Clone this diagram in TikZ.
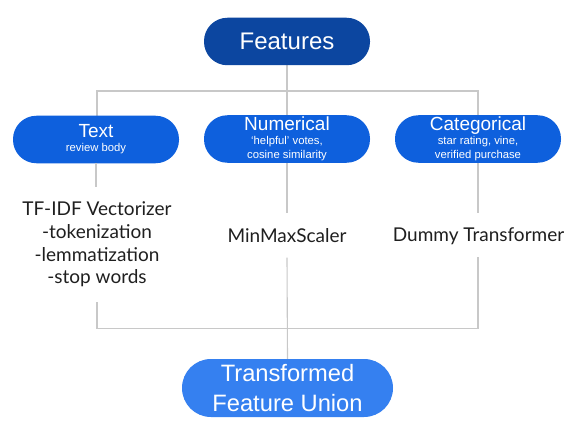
\documentclass[tikz,border=0pt]{standalone}
\usepackage{fontspec}
\newfontfamily\boxfont{Liberation Sans}
\newfontfamily\latofont{Lato}
\definecolor{darkblue}{HTML}{0C46A0}
\definecolor{midblue}{HTML}{0E60DD}
\definecolor{lightblue}{HTML}{3580F0}
\definecolor{linegray}{HTML}{C8C8C8}
\tikzset{
  pill/.style={rectangle, rounded corners=23.4pt, minimum width=166pt, minimum height=47.5pt,
    inner sep=0pt, text=white, align=center, font=\boxfont},
  conn/.style={draw=linegray, line width=1.1pt},
  lowtext/.style={inner xsep=0pt, inner ysep=15pt, align=center, text=black!88,
    font=\latofont\fontsize{19}{22.6}\selectfont}
}
\newcommand{\ttl}[1]{{\fontsize{19}{14}\selectfont #1}}
\begin{document}
\begin{tikzpicture}[x=1pt,y=-1pt]
\useasboundingbox[fill=white] (0,0) rectangle (586,425);
% hubs
\coordinate (hubtop) at (287,91);
\coordinate (hubbot) at (287,328.5);
% lower text nodes
\node[lowtext] (tfidf) at (97,244.5) {TF-IDF Vectorizer\\-tokenization\\-lemmatization\\-stop words};
\node[lowtext, text depth=0pt] (minmax) at (287,235.5) {MinMaxScaler};
\node[lowtext, text depth=0pt] (dummy) at (478.5,235) {Dummy Transformer};
% connectors (behind boxes)
\path[conn] (287,41.5) -- (hubtop);
\path[conn] (hubtop) -| (97,139);
\path[conn] (hubtop) -| (478,139);
\path[conn] (hubtop) -- (287,139);
% boxes
\node[pill, fill=darkblue, font=\boxfont\fontsize{24}{28}\selectfont] (feat) at (287,41.5) {Features};
\node[pill, fill=midblue, font=\boxfont\fontsize{11.3}{14}\selectfont] (txt) at (96,139.5) {\ttl{Text}\\review body};
\node[pill, fill=midblue, font=\boxfont\fontsize{11.3}{14}\selectfont] (num) at (287,139) {\ttl{Numerical}\\‘helpful’ votes,\\cosine similarity};
\node[pill, fill=midblue, font=\boxfont\fontsize{11.3}{14}\selectfont] (cat) at (478,139) {\ttl{Categorical}\\star rating, vine,\\verified purchase};
\node[pill, fill=lightblue, minimum width=211pt, minimum height=58pt, rounded corners=28.9pt,
  font=\boxfont\fontsize{23.7}{30}\selectfont] (union) at (287.5,388) {Transformed\\Feature Union};
% connectors from boxes to lower text
\path[conn] (txt.south) -- (txt.south |- tfidf.north);
\path[conn] (num.south) -- (num.south |- minmax.north);
\path[conn] (cat.south) -- (cat.south |- dummy.north);
% connectors to union
\path[conn] (tfidf.south) |- (hubbot);
\path[conn] (dummy.south -| cat.south) |- (hubbot);
\path[conn] (minmax.south) -- (union.north);
\end{tikzpicture}
\end{document}
